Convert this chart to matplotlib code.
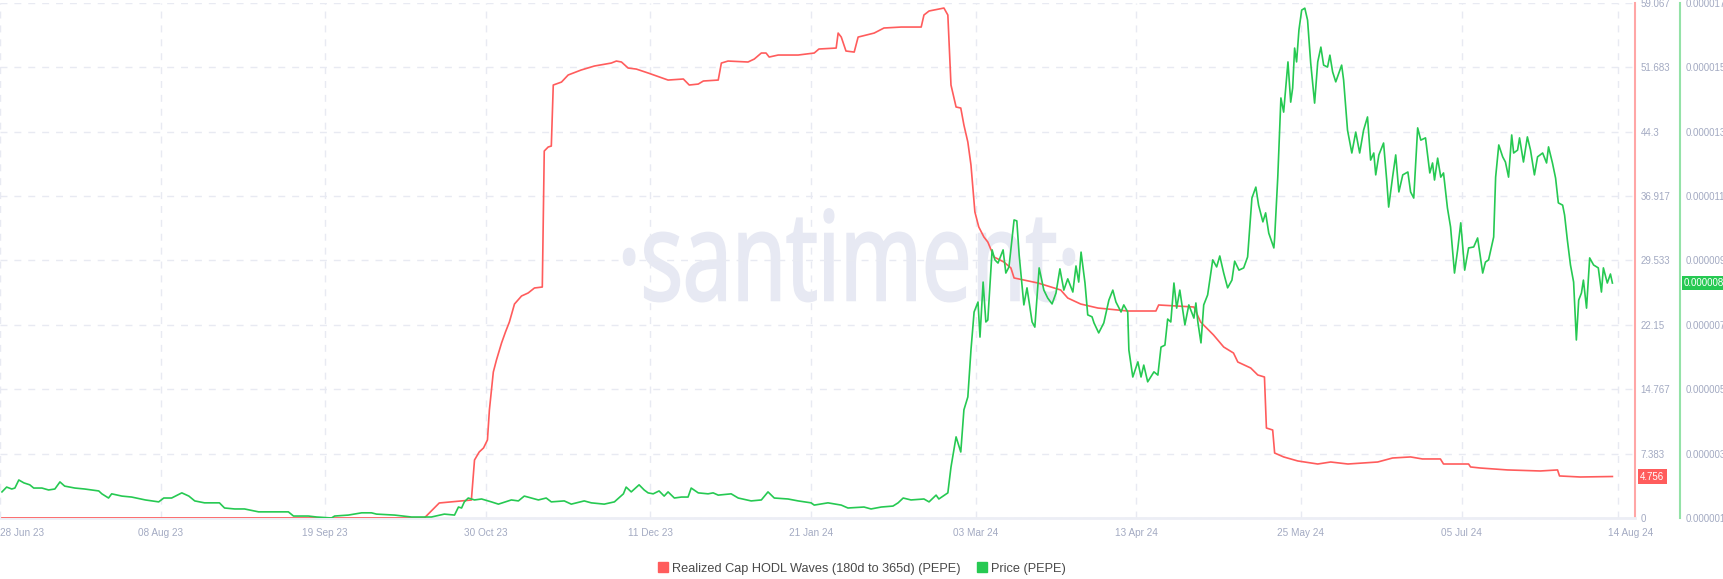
import datetime as dt
import matplotlib
matplotlib.use("Agg")
import matplotlib.pyplot as plt
import matplotlib.transforms as mtransforms
from matplotlib.lines import Line2D
from matplotlib.textpath import TextPath
from matplotlib.font_manager import FontProperties
from matplotlib.patches import PathPatch

plt.rcParams['font.family'] = ['Liberation Sans', 'DejaVu Sans']

START = dt.datetime(2023, 6, 28)

# Realized Cap HODL Waves (180d to 365d), days after START
hodl_days = [0.5, 108.3, 112.1, 120.3, 121.1, 122.3, 123.4, 124.4, 124.9, 125.9, 126.7, 128.0,
             129.0, 130.0, 131.3, 133.1, 134.8, 136.4, 138.4, 138.9, 139.9, 140.7, 141.2, 143.3,
             145.0, 148.3, 151.7, 156.0, 157.3, 158.6, 160.3, 162.4, 165.4, 170.5, 174.4, 175.9,
             178.2, 179.5, 183.3, 184.1, 185.8, 190.9, 192.5, 194.3, 195.5, 196.3, 198.6, 203.7,
             207.8, 209.0, 213.4, 213.9, 214.7, 215.9, 218.0, 219.0, 223.1, 225.6, 230.0, 235.1,
             235.8, 237.1, 240.9, 241.9, 242.7, 244.0, 245.2, 246.0, 247.0, 247.8, 248.8, 249.8,
             251.1, 252.1, 253.7, 256.2, 258.0, 258.8, 264.9, 270.7, 272.5, 275.8, 280.2, 287.8,
             295.0, 295.7, 304.7, 306.4, 309.7, 312.3, 314.8, 315.9, 319.2, 321.0, 322.7, 323.2,
             324.8, 325.3, 327.6, 331.2, 336.3, 339.6, 344.0, 351.6, 355.4, 360.0, 363.0, 367.6,
             368.4, 374.8, 375.3, 377.8, 384.7, 393.1, 397.5, 398.0, 403.3, 411.5]
hodl_values = [0.0, 0.0, 1.72, 2.06, 6.65, 7.57, 8.03, 8.95, 12.39, 16.74, 18.12, 20.07,
               21.33, 22.48, 24.54, 25.46, 25.81, 26.38, 26.49, 42.09, 42.55, 42.66, 49.66, 50.0,
               50.81, 51.38, 51.84, 52.18, 52.41, 52.30, 51.61, 51.49, 51.04, 50.23, 50.35, 49.66,
               49.77, 50.12, 50.23, 52.18, 52.41, 52.30, 52.64, 53.33, 53.33, 52.87, 53.10, 53.10,
               53.33, 53.79, 53.90, 55.62, 55.16, 53.56, 53.44, 55.16, 55.62, 56.20, 56.31, 56.31,
               57.69, 58.15, 58.49, 57.69, 49.66, 47.14, 47.02, 45.07, 43.12, 40.49, 35.10, 33.37,
               32.23, 31.65, 29.93, 29.36, 28.67, 27.53, 26.95, 26.15, 25.23, 24.54, 24.08, 23.74,
               23.74, 24.43, 24.20, 22.48, 20.99, 19.61, 18.92, 17.89, 17.20, 16.40, 16.17, 10.32,
               10.09, 7.45, 7.00, 6.54, 6.19, 6.42, 6.19, 6.42, 6.88, 7.00, 6.77, 6.77,
               6.19, 6.19, 5.85, 5.73, 5.51, 5.39, 5.51, 4.82, 4.70, 4.756]

# Price (PEPE), in millionths of USD
price_days = [0.5, 1.7, 3.0, 3.8, 4.8, 6.1, 7.6, 8.6, 10.7, 12.4, 14.0, 15.3, 16.5, 19.1, 21.6,
              25.2, 26.0, 27.7, 28.5, 31.1, 33.6, 37.1, 40.5, 41.8, 43.8, 46.4, 48.2, 49.7, 52.2,
              56.0, 57.3, 59.9, 62.4, 66.0, 68.5, 73.6, 74.9, 78.7, 80.8, 84.6, 85.4, 88.9, 92.3,
              94.8, 96.1, 100.7, 105.0, 110.1, 113.4, 116.0, 117.0, 117.8, 118.5, 119.5, 121.1,
              122.9, 125.4, 127.2, 130.5, 132.3, 133.8, 137.4, 139.4, 140.7, 144.0, 145.8, 149.1,
              150.9, 154.2, 156.8, 159.1, 159.8, 161.1, 163.1, 164.4, 165.4, 166.7, 168.2, 169.5,
              170.5, 172.1, 173.9, 175.6, 176.4, 178.2, 180.7, 182.0, 183.3, 186.6, 188.4, 191.7,
              194.3, 196.0, 197.6, 201.1, 203.7, 207.0, 207.8, 211.3, 214.7, 216.4, 220.5, 222.3,
              224.9, 227.9, 229.2, 230.5, 232.5, 235.8, 237.1, 238.9, 239.6, 241.9, 242.7, 244.0,
              245.2, 246.0, 247.0, 247.8, 248.6, 249.6, 250.1, 250.9, 251.6, 252.1, 253.2, 253.9,
              254.7, 256.0, 256.7, 257.5, 258.8, 259.5, 260.1, 261.3, 262.1, 263.4, 264.1, 265.2,
              266.4, 267.4, 268.5, 269.5, 270.5, 271.5, 272.5, 273.8, 274.6, 275.3, 275.9, 276.9,
              277.6, 278.7, 279.2, 280.4, 281.7, 283.0, 284.0, 284.8, 286.1, 286.8, 287.8, 288.1,
              289.1, 290.4, 291.2, 291.9, 292.9, 294.5, 295.5, 296.3, 297.3, 298.0, 298.8, 299.6,
              300.3, 301.1, 302.4, 303.4, 304.7, 305.2, 305.7, 306.5, 307.2, 308.2, 309.5, 310.5,
              311.3, 312.3, 313.3, 314.4, 315.1, 316.2, 317.4, 318.4, 319.5, 320.5, 321.2, 322.3,
              323.0, 323.8, 325.1, 325.3, 326.1, 326.9, 327.6, 328.7, 329.4, 329.9, 330.4, 330.9,
              331.5, 332.2, 333.0, 333.7, 334.5, 335.5, 336.3, 337.1, 337.8, 338.8, 339.4, 340.1,
              340.9, 342.4, 342.9, 343.9, 345.0, 346.0, 347.0, 348.0, 349.0, 349.8, 350.6, 351.1,
              351.9, 353.1, 353.9, 354.4, 355.4, 356.2, 357.0, 358.0, 359.3, 360.0, 360.8, 361.8,
              362.6, 363.8, 364.9, 365.6, 366.1, 366.9, 367.7, 368.4, 369.4, 370.2, 371.2, 372.0,
              372.8, 373.8, 374.8, 376.1, 377.1, 378.4, 379.1, 379.9, 381.2, 381.7, 382.5, 383.5,
              384.2, 385.0, 385.8, 386.3, 387.3, 387.8, 388.8, 389.8, 390.6, 391.6, 392.4, 393.7,
              394.7, 395.2, 396.2, 397.0, 397.7, 398.8, 399.3, 400.0, 400.8, 401.6, 402.3, 402.9,
              403.6, 404.1, 404.9, 405.7, 406.7, 407.9, 408.7, 409.2, 410.2, 411.0, 411.5]
price_values = [1.81, 1.96, 1.90, 1.93, 2.18, 2.09, 2.03, 1.93, 1.93, 1.87, 1.90, 2.12, 1.99, 1.93,
                1.90, 1.84, 1.75, 1.62, 1.75, 1.68, 1.65, 1.56, 1.50, 1.62, 1.62, 1.78, 1.68, 1.53,
                1.47, 1.47, 1.31, 1.28, 1.28, 1.19, 1.19, 1.19, 1.06, 1.06, 1.03, 1.00, 1.06, 1.09,
                1.16, 1.16, 1.12, 1.09, 1.03, 1.03, 1.12, 1.09, 1.34, 1.31, 1.50, 1.62, 1.56, 1.59,
                1.50, 1.43, 1.56, 1.53, 1.68, 1.56, 1.62, 1.50, 1.53, 1.43, 1.53, 1.47, 1.43, 1.50,
                1.75, 1.96, 1.81, 2.03, 1.87, 1.78, 1.75, 1.84, 1.68, 1.81, 1.62, 1.65, 1.65, 1.93,
                1.78, 1.75, 1.78, 1.71, 1.75, 1.62, 1.53, 1.56, 1.81, 1.62, 1.59, 1.53, 1.47, 1.40,
                1.47, 1.40, 1.31, 1.34, 1.28, 1.34, 1.37, 1.47, 1.62, 1.56, 1.59, 1.50, 1.71, 1.59,
                1.78, 2.58, 3.52, 3.05, 4.36, 4.76, 6.22, 7.40, 7.71, 6.62, 8.33, 7.09, 7.15, 9.33,
                9.02, 8.92, 9.33, 8.61, 8.80, 10.26, 10.23, 9.17, 7.62, 8.15, 7.09, 6.93, 8.77,
                8.08, 7.83, 7.65, 7.99, 8.74, 8.08, 8.43, 8.02, 8.83, 8.33, 9.26, 8.30, 7.31, 7.25,
                7.06, 6.75, 7.06, 7.77, 8.08, 7.71, 7.40, 7.62, 7.40, 6.22, 5.38, 5.85, 5.38, 5.75,
                5.23, 5.54, 5.44, 6.31, 6.37, 7.18, 7.09, 8.30, 7.52, 8.08, 7.00, 7.62, 7.21, 7.68,
                7.09, 6.44, 7.62, 7.93, 9.02, 8.80, 9.14, 8.61, 8.15, 8.39, 8.98, 8.70, 8.77, 9.11,
                10.94, 11.28, 10.72, 10.20, 10.48, 9.85, 9.39, 9.70, 11.59, 14.05, 13.61, 15.17,
                13.92, 14.36, 15.60, 15.17, 16.16, 16.78, 16.84, 16.47, 15.14, 13.89, 15.17, 15.63,
                15.07, 15.01, 15.38, 14.86, 14.55, 15.07, 14.61, 13.05, 12.34, 12.99, 12.34, 13.05,
                13.46, 12.12, 12.34, 11.66, 12.28, 12.65, 11.50, 10.66, 11.59, 12.28, 11.13, 11.66,
                11.75, 11.13, 10.94, 13.12, 12.74, 12.81, 11.72, 12.03, 11.50, 12.18, 11.59, 11.72,
                10.63, 10.04, 8.61, 9.33, 10.17, 8.70, 9.39, 9.42, 9.70, 8.61, 8.95, 9.02, 9.73,
                11.59, 12.59, 12.22, 12.06, 11.59, 12.90, 12.34, 12.43, 12.81, 12.06, 12.84, 12.43,
                11.66, 12.22, 12.34, 12.03, 12.53, 12.03, 11.56, 10.79, 10.72, 10.41, 9.64, 8.86,
                8.33, 6.53, 7.77, 7.99, 8.39, 7.52, 9.08, 8.86, 8.77, 8.02, 8.77, 8.30, 8.58, 8.30]

hodl_ticks = [0, 7.383, 14.767, 22.15, 29.533, 36.917, 44.3, 51.683, 59.067]
hodl_tick_labels = ["0", "7.383", "14.767", "22.15", "29.533", "36.917", "44.3", "51.683", "59.067"]
price_ticks = [1, 3, 5, 7, 9, 11, 13, 15, 17]
date_ticks = ["2023-06-28", "2023-08-08", "2023-09-19", "2023-10-30", "2023-12-11", "2024-01-21",
              "2024-03-03", "2024-04-13", "2024-05-25", "2024-07-05", "2024-08-14"]
date_tick_labels = ["28 Jun 23", "08 Aug 23", "19 Sep 23", "30 Oct 23", "11 Dec 23", "21 Jan 24",
                    "03 Mar 24", "13 Apr 24", "25 May 24", "05 Jul 24", "14 Aug 24"]

RED = "#ff5c5c"
GREEN = "#26c952"
LABEL = "#a3aac2"
GRID = "#e8eaf2"

hodl_dates = [START + dt.timedelta(days=d) for d in hodl_days]
price_dates = [START + dt.timedelta(days=d) for d in price_days]
price_usd = [v * 1e-6 for v in price_values]

fig = plt.figure(figsize=(17.23, 5.79), dpi=100, facecolor="white")
ax = fig.add_axes([0.0, 0.1054, 0.949, 0.8894])
ax2 = ax.twinx()

# watermark, a bit condensed like the santiment logo text
wm_font = FontProperties(family=["Open Sans", "DejaVu Sans"])
wm = TextPath((0, 0), "\u00b7santiment\u00b7", size=100, prop=wm_font)
ext = wm.get_extents()
xh = TextPath((0, 0), "x", size=100, prop=wm_font).get_extents().height
sx = 450 / ext.width
sy = 66 / xh
wm_tr = mtransforms.Affine2D().translate(-ext.x0, 0).scale(sx, sy).translate(624, 579 - 300)
ax.add_artist(PathPatch(wm, transform=wm_tr, fc="#e7e9f3", ec="#e7e9f3", lw=1.8, zorder=0))

ax.plot(hodl_dates, hodl_values, color=RED, lw=1.2, zorder=3)
ax2.plot(price_dates, price_usd, color=GREEN, lw=1.2, zorder=3)

ax.set_xlim(START + dt.timedelta(days=0.46), START + dt.timedelta(days=417.3))
ax.set_ylim(0, 59.067)
ax2.set_ylim(1e-6, 17e-6)

ax.set_xticks([dt.datetime.strptime(d, "%Y-%m-%d") for d in date_ticks])
ax.set_xticklabels(date_tick_labels)
ax.tick_params(axis="x", length=0, pad=7, labelsize=7.2, labelcolor=LABEL)
xl = ax.get_xticklabels()
xl[0].set_ha("left")
xl[-1].set_transform(xl[-1].get_transform() + mtransforms.ScaledTranslation(0.12, 0, fig.dpi_scale_trans))

ax.yaxis.tick_right()
ax.set_yticks(hodl_ticks)
ax.set_yticklabels(hodl_tick_labels)
ax.tick_params(axis="y", length=0, pad=4, labelsize=7, labelcolor=LABEL)

ax2.set_yticks([v * 1e-6 for v in price_ticks])
ax2.set_yticklabels(["%.6f" % (v * 1e-6) for v in price_ticks])
ax2.tick_params(axis="y", length=0, pad=4, labelsize=7, labelcolor=LABEL)

ax.grid(True, color=GRID, lw=1, linestyle=(0, (5, 5)), zorder=1)
ax.set_axisbelow(True)

for s in ["top", "left"]:
    ax.spines[s].set_visible(False)
    ax2.spines[s].set_visible(False)
ax.spines["bottom"].set_color("#eceef5")
ax.spines["bottom"].set_linewidth(2)
ax2.spines["bottom"].set_visible(False)
ax.spines["right"].set_color("#ffa6a6")
ax.spines["right"].set_linewidth(1.5)
ax2.spines["right"].set_color("#93e2a7")
ax2.spines["right"].set_linewidth(1.5)
ax2.spines["right"].set_position(("outward", 32.4))

# last value tags
tr_red = mtransforms.blended_transform_factory(ax.transAxes, ax.transData)
ax.text(1.003, hodl_values[-1], "%.3f" % hodl_values[-1], transform=tr_red, ha="left", va="center",
        fontsize=7, color="white", clip_on=False,
        bbox=dict(boxstyle="square,pad=0.25", fc=RED, ec="none"))
tr_green = mtransforms.blended_transform_factory(fig.transFigure, ax2.transData)
ax2.text(1684 / 1723, price_usd[-1], "%.6f" % price_usd[-1], transform=tr_green, ha="left",
         va="center", fontsize=7, color="white", clip_on=False,
         bbox=dict(boxstyle="square,pad=0.25", fc=GREEN, ec="none"))

handles = [Line2D([], [], marker="s", ls="none", color=RED, markersize=7),
           Line2D([], [], marker="s", ls="none", color=GREEN, markersize=7)]
fig.legend(handles, ["Realized Cap HODL Waves (180d to 365d) (PEPE)", "Price (PEPE)"],
           loc="center", bbox_to_anchor=(0.5, 0.018), ncol=2, frameon=False, fontsize=9.2,
           labelcolor="#4a4a4a", handletextpad=0.2, columnspacing=1.2, handlelength=1.0)

fig.savefig("out.png", dpi=100, facecolor="white")
